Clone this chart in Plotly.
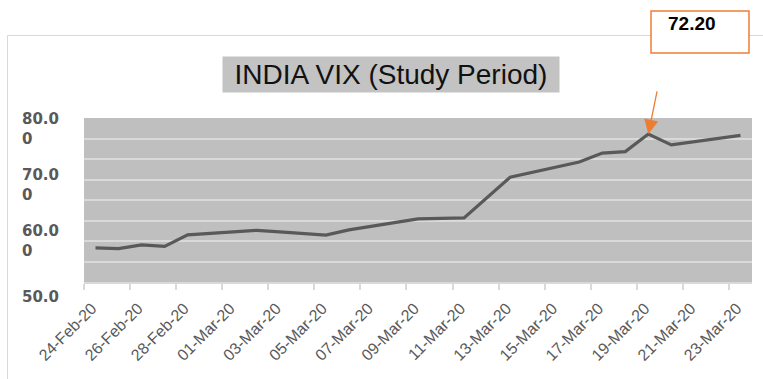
import plotly.graph_objects as go

# India VIX closing values over the study period
trade_dates = ["2020-02-24", "2020-02-25", "2020-02-26", "2020-02-27", "2020-02-28",
               "2020-03-02", "2020-03-03", "2020-03-04", "2020-03-05", "2020-03-06",
               "2020-03-09", "2020-03-11", "2020-03-12", "2020-03-13", "2020-03-16",
               "2020-03-17", "2020-03-18", "2020-03-19", "2020-03-20", "2020-03-23"]
vix_close = [16.6, 16.3, 18.1, 17.4, 23.0,
             25.2, 24.5, 23.8, 22.9, 25.4,
             30.8, 31.3, 41.2, 51.1, 58.5,
             62.9, 63.6, 72.20, 66.9, 71.5]

tick_dates = ["2020-02-24", "2020-02-26", "2020-02-28", "2020-03-01", "2020-03-03",
              "2020-03-05", "2020-03-07", "2020-03-09", "2020-03-11", "2020-03-13",
              "2020-03-15", "2020-03-17", "2020-03-19", "2020-03-21", "2020-03-23"]
tick_labels = ["24-Feb-20", "26-Feb-20", "28-Feb-20", "01-Mar-20", "03-Mar-20",
               "05-Mar-20", "07-Mar-20", "09-Mar-20", "11-Mar-20", "13-Mar-20",
               "15-Mar-20", "17-Mar-20", "19-Mar-20", "21-Mar-20", "23-Mar-20"]

y_label_vals = [80, 70, 60, 50]
y_label_text = ["80.0<br>0", "70.0<br>0", "60.0<br>0", "50.0"]

peak_date = "2020-03-19"
peak_value = 72.20

W, H = 763, 379
L, R, T, B = 84, 11, 118, 97
PW, PH = W - L - R, H - T - B


def px_x(p):
    return (p - L) / PW


def px_y(p):
    return (H - B - p) / PH


def label_y(v):
    # the wrapped value labels are spread a little wider than the grid
    return px_y(128.5 + (80 - v) * 5.6)


# each day's point sits in the middle of its date bin
x_mid = [d + " 12:00" for d in trade_dates]

fig = go.Figure()
fig.add_trace(go.Scatter(
    x=x_mid, y=vix_close, mode="lines",
    line=dict(color="#595959", width=3.2),
    hoverinfo="skip", showlegend=False,
))

grey_txt = "#595959"
grid = "#d9d9d9"

fig.update_layout(
    width=W, height=H,
    margin=dict(l=L, r=R, t=T, b=B, pad=0),
    paper_bgcolor="white",
    plot_bgcolor="#bfbfbf",
    showlegend=False,
    xaxis=dict(
        type="date",
        range=["2020-02-24", "2020-03-24"],
        tickvals=tick_dates, ticktext=tick_labels,
        tickangle=-45,
        ticks="outside", ticklen=6, tickcolor=grid, tickwidth=1.5,
        ticklabelshift=8, ticklabelstandoff=3,
        showline=True, linecolor=grid, linewidth=1.5,
        showgrid=False, zeroline=False,
        tickfont=dict(family="Liberation Sans", size=16, color=grey_txt),
    ),
    yaxis=dict(
        range=[0, 80], dtick=10,
        showticklabels=False, ticks="",
        showgrid=True, gridcolor=grid, gridwidth=1.5,
        zeroline=True, zerolinecolor=grid, zerolinewidth=1.5,
        showline=False,
    ),
)

annotations = []
for v, t in zip(y_label_vals, y_label_text):
    annotations.append(dict(
        xref="paper", yref="paper", x=px_x(20), y=label_y(v),
        xanchor="left", yanchor="middle", align="left",
        text=t, showarrow=False,
        font=dict(family="DejaVu Sans", size=15, color=grey_txt, weight="bold"),
    ))

# chart title on its grey band
annotations.append(dict(
    xref="paper", yref="paper", x=px_x(391), y=px_y(74.5),
    xanchor="center", yanchor="middle",
    text="INDIA VIX (Study Period)", showarrow=False,
    bgcolor="#c3c3c3", width=336, height=35, borderpad=0,
    font=dict(family="Liberation Sans", size=28, color="#111111"),
))

# arrow pointing at the peak
annotations.append(dict(
    xref="x", yref="y", x=peak_date + " 12:00", y=peak_value,
    text="", showarrow=True, ax=9, ay=-44,
    arrowhead=2, arrowsize=2.2, arrowwidth=1.3, arrowcolor="#ED7D31",
    standoff=0,
))

# value call-out
annotations.append(dict(
    xref="paper", yref="paper", x=px_x(666), y=px_y(23.5),
    xanchor="left", yanchor="middle",
    text=f"{peak_value:.2f}", showarrow=False,
    font=dict(family="Liberation Sans", size=19, color="black", weight="bold"),
))

fig.update_layout(annotations=annotations)

fig.update_layout(shapes=[
    # outer chart frame
    dict(type="rect", xref="paper", yref="paper",
         x0=px_x(7.5), x1=px_x(900), y0=px_y(600), y1=px_y(35.5),
         line=dict(color="#d9d9d9", width=1), fillcolor="rgba(0,0,0,0)", layer="below"),
    # call-out box
    dict(type="rect", xref="paper", yref="paper",
         x0=px_x(651), x1=px_x(749), y0=px_y(53), y1=px_y(11),
         line=dict(color="#ED7D31", width=1.5), fillcolor="white", layer="above"),
])

fig.write_html("out.html")
